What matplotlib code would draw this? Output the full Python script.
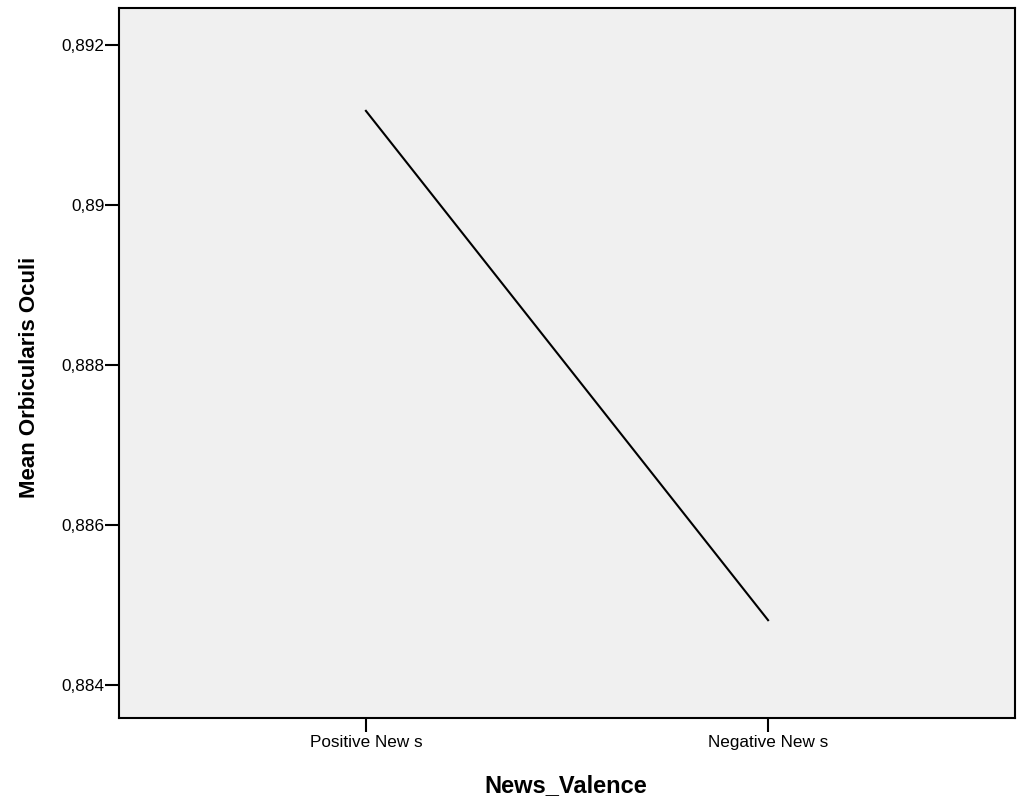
import matplotlib
matplotlib.use("Agg")
import matplotlib.pyplot as plt
from matplotlib.ticker import FuncFormatter

plt.rcParams['font.family'] = ['Liberation Sans', 'DejaVu Sans']

categories = ["Positive New s", "Negative New s"]
mean_values = [0.891175, 0.884812]
y_ticks = [0.884, 0.886, 0.888, 0.890, 0.892]

fig = plt.figure(figsize=(10.23, 8.0), dpi=100)
ax = fig.add_axes([0.1163, 0.1025, 0.8759, 0.8875])
ax.set_facecolor('#f0f0f0')

x = list(range(len(categories)))
ax.plot(x, mean_values, color='black', linewidth=1.5)

ax.set_xlim(-0.614, 1.614)
ax.set_ylim(0.88359, 0.89246)
ax.set_xticks(x)
ax.set_xticklabels(categories)
ax.set_yticks(y_ticks)

def comma_fmt(v, pos):
    s = f"{v:.3f}".rstrip('0').rstrip('.')
    return s.replace('.', ',')

ax.yaxis.set_major_formatter(FuncFormatter(comma_fmt))

for sp in ax.spines.values():
    sp.set_linewidth(1.5)
    sp.set_color('black')

ax.tick_params(axis='both', direction='out', length=10, width=1.5, labelsize=12.3, colors='black')
ax.tick_params(axis='x', pad=2)
ax.tick_params(axis='y', pad=0.5)

ax.set_xlabel("News_Valence", fontsize=17, fontweight='bold')
ax.set_ylabel("Mean Orbicularis Oculi", fontsize=16, fontweight='bold')
ax.xaxis.set_label_coords(0.499, -0.079)
ax.yaxis.set_label_coords(-0.088, 0.480)

fig.savefig("out.png", dpi=100, facecolor='white')
